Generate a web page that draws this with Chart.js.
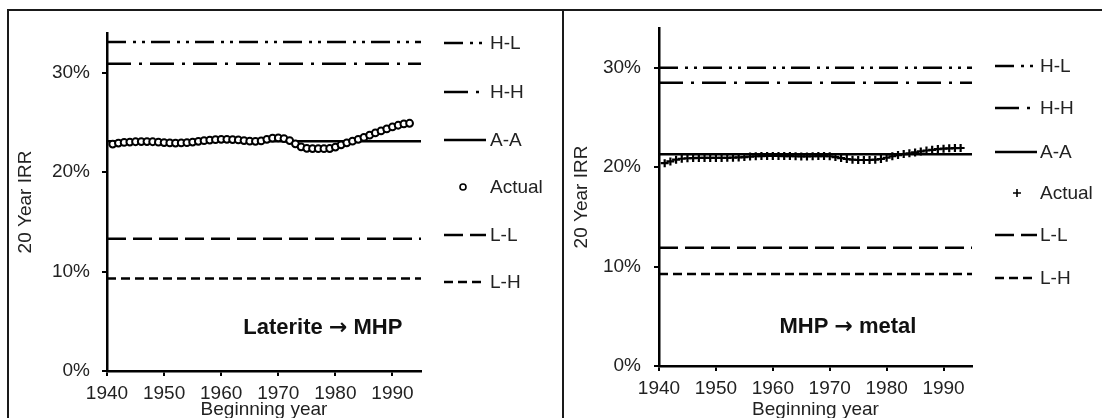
<!DOCTYPE html>
<html>
<head>
<meta charset="utf-8">
<script src="https://cdn.jsdelivr.net/npm/chart.js@4.4.1/dist/chart.umd.min.js"></script>
<style>
  html, body { margin: 0; padding: 0; background: #fff; overflow: hidden; width: 1102px; height: 418px; }
  #frame { position: absolute; left: 7px; top: 9px; width: 1200px; height: 500px; border: 2px solid #1a1a1a; }
  #divider { position: absolute; left: 562px; top: 9px; width: 2px; height: 500px; background: #1a1a1a; }
  canvas { position: absolute; top: 0; }
  #left { left: 0; }
  #right { left: 563px; }
</style>
</head>
<body>
<div id="frame"></div>
<div id="divider"></div>
<canvas id="left" width="563" height="440"></canvas>
<canvas id="right" width="539" height="440"></canvas>
<script>
// === Data ===
const years = [1941, 1942, 1943, 1944, 1945, 1946, 1947, 1948, 1949, 1950,
  1951, 1952, 1953, 1954, 1955, 1956, 1957, 1958, 1959, 1960,
  1961, 1962, 1963, 1964, 1965, 1966, 1967, 1968, 1969, 1970,
  1971, 1972, 1973, 1974, 1975, 1976, 1977, 1978, 1979, 1980,
  1981, 1982, 1983, 1984, 1985, 1986, 1987, 1988, 1989, 1990,
  1991, 1992, 1993];

const actualLaterite = [22.83, 22.93, 22.99, 23.03, 23.06, 23.08, 23.08, 23.06, 23.02, 22.98,
  22.94, 22.93, 22.94, 22.97, 23.03, 23.10, 23.17, 23.23, 23.27, 23.30,
  23.30, 23.28, 23.24, 23.18, 23.12, 23.10, 23.14, 23.30, 23.42, 23.45,
  23.38, 23.18, 22.85, 22.55, 22.40, 22.37, 22.36, 22.36, 22.38, 22.52,
  22.75, 22.95, 23.12, 23.30, 23.50, 23.72, 23.95, 24.15, 24.35, 24.55,
  24.72, 24.85, 24.92];

const actualMetal = [20.40, 20.58, 20.75, 20.85, 20.90, 20.92, 20.93, 20.93, 20.93, 20.93,
  20.93, 20.94, 20.96, 20.98, 21.02, 21.07, 21.10, 21.12, 21.13, 21.13,
  21.13, 21.12, 21.12, 21.10, 21.08, 21.08, 21.10, 21.12, 21.12, 21.10,
  21.02, 20.92, 20.82, 20.75, 20.72, 20.72, 20.72, 20.75, 20.82, 20.95,
  21.10, 21.22, 21.32, 21.40, 21.48, 21.58, 21.68, 21.75, 21.82, 21.86,
  21.90, 21.92, 21.93];

// scenario levels, order: H-L, H-H, A-A, L-L, L-H
const scenarioNames = ['H-L', 'H-H', 'A-A', 'L-L', 'L-H'];
const levelsLaterite = [33.1, 30.9, 23.1, 13.3, 9.3];
const levelsMetal = [30.0, 28.5, 21.3, 11.9, 9.25];
const levelSpan = [1940, 1995];

const yTicks = [0, 10, 20, 30];
const xTicks = [1940, 1950, 1960, 1970, 1980, 1990];

Chart.defaults.font.family = "'Liberation Sans', Arial, sans-serif";
Chart.defaults.color = '#222';

const dashes = {
    'H-L': [19, 7, 3, 6, 3, 6],
    'H-H': [24, 8, 3, 8],
    'A-A': [],
    'L-L': [19, 7],
    'L-H': [9, 5]
};

// === Plugins ===
const sideLegend = {
    id: 'sideLegend',
    afterDraw(chart, args, o) {
        const ctx = chart.ctx;
        ctx.save();
        chart.data.datasets.forEach((ds, i) => {
            const y = o.rows[i];
            ctx.strokeStyle = '#000';
            if (ds.showLine === false) {
                ctx.lineWidth = 1.6;
                ctx.beginPath();
                if (ds.pointStyle === 'cross') {
                    ctx.moveTo(o.markerX - 4, y);
                    ctx.lineTo(o.markerX + 4, y);
                    ctx.moveTo(o.markerX, y - 4);
                    ctx.lineTo(o.markerX, y + 4);
                } else {
                    ctx.arc(o.markerX, y, 3, 0, Math.PI * 2);
                }
                ctx.stroke();
            } else {
                ctx.lineWidth = 2.5;
                ctx.setLineDash(ds.borderDash || []);
                ctx.beginPath();
                ctx.moveTo(o.x0, y);
                ctx.lineTo(o.x1, y);
                ctx.stroke();
                ctx.setLineDash([]);
            }
            ctx.fillStyle = '#222';
            ctx.font = "19px 'Liberation Sans', Arial, sans-serif";
            ctx.textAlign = 'left';
            ctx.textBaseline = 'middle';
            ctx.fillText(ds.label, o.textX, y + 1);
        });
        ctx.restore();
    }
};

// caption drawn in parts so the arrow can use a font with a heavier glyph
const caption = {
    id: 'caption',
    afterDraw(chart, args, o) {
        const ctx = chart.ctx;
        const parts = [
            { t: o.before + ' ', f: "bold 22px 'Liberation Sans', Arial, sans-serif" },
            { t: '\u2192', f: "bold 22px 'DejaVu Sans', sans-serif" },
            { t: ' ' + o.after, f: "bold 22px 'Liberation Sans', Arial, sans-serif" }
        ];
        ctx.save();
        ctx.fillStyle = '#111';
        ctx.textBaseline = 'middle';
        ctx.textAlign = 'left';
        let total = 0;
        parts.forEach(p => { ctx.font = p.f; p.w = ctx.measureText(p.t).width; total += p.w; });
        let x = chart.scales.x.getPixelForValue(o.x) - total / 2;
        const y = chart.scales.y.getPixelForValue(o.y);
        parts.forEach(p => { ctx.font = p.f; ctx.fillText(p.t, x, y); x += p.w; });
        ctx.restore();
    }
};

function buildDatasets(levels, actual, marker) {
    const lines = scenarioNames.map((name, i) => ({
        label: name,
        data: levelSpan.map(x => ({ x: x, y: levels[i] })),
        showLine: true,
        borderColor: '#000',
        borderWidth: 2.5,
        borderDash: dashes[name],
        pointRadius: 0,
        order: 1
    }));
    const points = {
        label: 'Actual',
        data: years.map((x, i) => ({ x: x, y: actual[i] })),
        showLine: false,
        pointStyle: marker,
        pointRadius: marker === 'cross' ? 4 : 3.4,
        borderWidth: marker === 'cross' ? 2.2 : 2,
        borderColor: '#000',
        backgroundColor: '#fff',
        order: 0
    };
    return [lines[0], lines[1], lines[2], points, lines[3], lines[4]];
}

function makeChart(id, levels, actual, marker, p) {
    new Chart(document.getElementById(id).getContext('2d'), {
        type: 'scatter',
        data: { datasets: buildDatasets(levels, actual, marker) },
        options: {
            responsive: false,
            animation: false,
            devicePixelRatio: 1,
            layout: { padding: { left: 0, right: p.padRight, top: p.padTop, bottom: 0 } },
            plugins: {
                legend: { display: false },
                tooltip: { enabled: false },
                sideLegend: p.legend,
                caption: p.caption
            },
            scales: {
                x: {
                    type: 'linear',
                    min: 1940,
                    max: 1995,
                    afterFit: s => { s.height = p.xHeight; },
                    afterBuildTicks: s => { s.ticks = xTicks.map(v => ({ value: v })); },
                    ticks: { font: { size: 19 }, color: '#222', padding: 6, maxRotation: 0, callback: v => String(v) },
                    grid: { drawOnChartArea: false, drawTicks: true, tickLength: 5, color: '#000', lineWidth: 2 },
                    border: { display: true, color: '#000', width: 2.5 },
                    title: { display: true, text: 'Beginning year', font: { size: 19 }, color: '#222', padding: { top: 0, bottom: 18.6 } }
                },
                y: {
                    min: 0,
                    max: 34,
                    afterFit: s => { s.width = p.yWidth; },
                    afterBuildTicks: s => { s.ticks = yTicks.map(v => ({ value: v })); },
                    ticks: { font: { size: 19 }, color: '#222', padding: p.yPad, callback: v => v + '%' },
                    grid: { drawOnChartArea: false, drawTicks: true, tickLength: 5, color: '#000', lineWidth: 2 },
                    border: { display: true, color: '#000', width: 2.5 },
                    title: { display: true, text: '20 Year IRR', font: { size: 19 }, color: '#222', padding: { top: p.yTitlePad, bottom: 0 } }
                }
            }
        },
        plugins: [sideLegend, caption]
    });
}

// === Laterite -> MHP ===
makeChart('left', levelsLaterite, actualLaterite, 'circle', {
    padRight: 142, padTop: 33, xHeight: 69, yWidth: 107, yPad: 12, yTitlePad: 14,
    legend: { rows: [43, 92, 140, 187, 235, 282], x0: 444, x1: 486, textX: 490, markerX: 463 },
    caption: { before: 'Laterite', after: 'MHP', x: 1977.8, y: 4.3 }
});

// === MHP -> metal ===
makeChart('right', levelsMetal, actualMetal, 'cross', {
    padRight: 130, padTop: 28, xHeight: 74, yWidth: 96, yPad: 13, yTitlePad: 7.3,
    legend: { rows: [66, 108, 152, 193, 235, 278], x0: 432, x1: 474, textX: 477, markerX: 454 },
    caption: { before: 'MHP', after: 'metal', x: 1973.2, y: 3.9 }
});
</script>
</body>
</html>
